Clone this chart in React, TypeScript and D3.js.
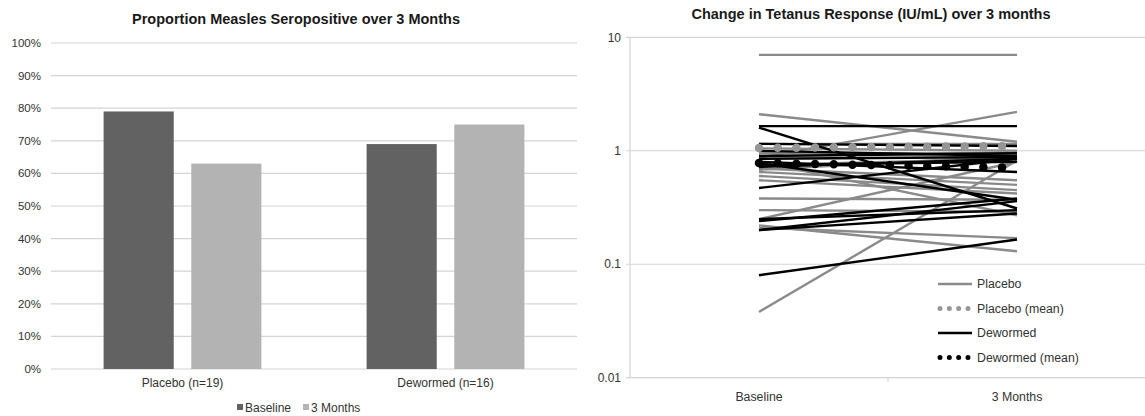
import React from "react";
import * as d3 from "d3";

// left chart: proportion seropositive
const groups = ["Placebo (n=19)", "Dewormed (n=16)"];
const timepoints = ["Baseline", "3 Months"];
const baselineProp = [0.79, 0.69];
const monthsProp = [0.63, 0.75];
const pctTicks = [0, 0.1, 0.2, 0.3, 0.4, 0.5, 0.6, 0.7, 0.8, 0.9, 1];

// right chart: tetanus IU/mL, [baseline, 3 months] per child
const placeboPairs = [
  [7.0, 7.0],
  [2.1, 1.2],
  [0.87, 2.2],
  [0.038, 0.82],
  [0.25, 0.8],
  [0.38, 0.37],
  [0.3, 0.29],
  [0.21, 0.17],
  [0.22, 0.13],
  [1.15, 1.15],
  [1.05, 1.0],
  [0.95, 0.95],
  [0.7, 0.55],
  [0.65, 0.5],
  [0.6, 0.45],
  [0.68, 0.9],
  [0.55, 0.42],
  [0.75, 0.85],
  [0.8, 0.27],
];
const dewormedPairs = [
  [1.65, 1.65],
  [1.6, 0.31],
  [0.78, 0.37],
  [0.47, 0.85],
  [0.24, 0.38],
  [0.2, 0.36],
  [0.2, 0.28],
  [0.08, 0.165],
  [1.15, 1.1],
  [0.9, 0.95],
  [0.85, 0.88],
  [0.8, 0.65],
  [1.0, 0.9],
  [0.75, 0.8],
  [0.25, 0.3],
  [0.72, 0.85],
];
const placeboMean = [1.06, 1.1];
const dewormedMean = [0.78, 0.71];
const logTicks = [0.01, 0.1, 1, 10];

const FONT = "'Liberation Sans', Arial, sans-serif";
const DARK = "#626262";
const LIGHT = "#b3b3b3";
const GRID = "#d4d4d4";
const TXT = "#333";

const LeftChart = () => {
  const y = d3.scaleLinear().domain([0, 1]).range([369, 43]);
  const x0 = d3.scaleBand().domain(groups).range([51, 577]).paddingInner(0.4).paddingOuter(0.2);
  const x1 = d3.scaleBand().domain(timepoints).range([0, x0.bandwidth()]).paddingInner(0.2);
  const vals = [baselineProp, monthsProp];
  const cols = [DARK, LIGHT];

  return (
    <g>
      <text x={296} y={24} textAnchor="middle" fontSize={14.5} fontWeight="bold" fill="#1a1a1a">
        Proportion Measles Seropositive over 3 Months
      </text>
      {pctTicks.map((t) => (
        <g key={t}>
          <line x1={51} x2={577} y1={y(t)} y2={y(t)} stroke={GRID} strokeWidth={1.2} />
          <text x={41} y={y(t)} dy="0.35em" textAnchor="end" fontSize={11.5} fill={TXT}>
            {d3.format(".0%")(t)}
          </text>
        </g>
      ))}
      {groups.map((g, gi) =>
        timepoints.map((tp, ti) => (
          <rect
            key={g + tp}
            x={(x0(g) ?? 0) + (x1(tp) ?? 0)}
            y={y(vals[ti][gi])}
            width={x1.bandwidth()}
            height={y(0) - y(vals[ti][gi])}
            fill={cols[ti]}
          />
        ))
      )}
      {groups.map((g) => (
        <text key={g} x={(x0(g) ?? 0) + x0.bandwidth() / 2} y={387} textAnchor="middle" fontSize={12} fill={TXT}>
          {g}
        </text>
      ))}
      {timepoints.map((tp, i) => {
        const lx = 237 + i * 66;
        return (
          <g key={tp}>
            <rect x={lx} y={404} width={6} height={6} fill={cols[i]} />
            <text x={lx + 8} y={411.5} fontSize={12} fill={TXT}>
              {tp}
            </text>
          </g>
        );
      })}
    </g>
  );
};

const RightChart = () => {
  const y = d3.scaleLog().domain([0.01, 10]).range([377.7, 37.3]);
  const x = d3.scalePoint().domain(timepoints).range([630, 1146]).padding(0.5);
  const line = d3
    .line<number>()
    .x((_, i) => x(timepoints[i]) ?? 0)
    .y((d) => y(d));

  const PLAC = "#8a8a8a";
  const PMEAN = "#969696";

  const legend = [
    { label: "Placebo", color: PLAC, dotted: false },
    { label: "Placebo (mean)", color: PMEAN, dotted: true },
    { label: "Dewormed", color: "#000", dotted: false },
    { label: "Dewormed (mean)", color: "#000", dotted: true },
  ];

  return (
    <g>
      <text x={871} y={19} textAnchor="middle" fontSize={14.5} fontWeight="bold" fill="#1a1a1a">
        Change in Tetanus Response (IU/mL) over 3 months
      </text>
      {logTicks.map((t) => (
        <g key={t}>
          <line x1={626} x2={1146} y1={y(t)} y2={y(t)} stroke={GRID} strokeWidth={1.2} />
          <text x={621} y={y(t)} dy="0.35em" textAnchor="end" fontSize={12} fill={TXT}>
            {String(t)}
          </text>
        </g>
      ))}
      <line x1={630} x2={630} y1={y(10)} y2={y(0.01)} stroke={GRID} strokeWidth={1.2} />
      <line x1={888} x2={888} y1={y(0.01)} y2={y(0.01) + 4} stroke={GRID} strokeWidth={1.2} />
      {timepoints.map((tp) => (
        <text key={tp} x={x(tp)} y={401} textAnchor="middle" fontSize={12.3} fill={TXT}>
          {tp}
        </text>
      ))}
      {placeboPairs.map((p, i) => (
        <path key={"p" + i} d={line(p) ?? ""} fill="none" stroke={PLAC} strokeWidth={2.4} />
      ))}
      {dewormedPairs.map((p, i) => (
        <path key={"d" + i} d={line(p) ?? ""} fill="none" stroke="#000" strokeWidth={2.4} />
      ))}
      <path
        d={line(placeboMean) ?? ""}
        fill="none"
        stroke={PMEAN}
        strokeWidth={8.5}
        strokeLinecap="round"
        strokeDasharray="0 18.7"
      />
      <path
        d={line(dewormedMean) ?? ""}
        fill="none"
        stroke="#000"
        strokeWidth={8.5}
        strokeLinecap="round"
        strokeDasharray="0 18.7"
      />
      {legend.map((l, i) => {
        const ly = 284 + i * 24.5;
        return (
          <g key={l.label}>
            {l.dotted ? (
              <line
                x1={940}
                x2={968}
                y1={ly}
                y2={ly}
                stroke={l.color}
                strokeWidth={5}
                strokeLinecap="round"
                strokeDasharray="0 9.33"
              />
            ) : (
              <line x1={938} x2={972} y1={ly} y2={ly} stroke={l.color} strokeWidth={2.4} />
            )}
            <text x={977} y={ly} dy="0.35em" fontSize={12.3} fill={TXT}>
              {l.label}
            </text>
          </g>
        );
      })}
    </g>
  );
};

export default function App() {
  return (
    <div style={{ position: "absolute", left: 0, top: 0 }}>
      <svg width={1145} height={416} style={{ display: "block", background: "#fff", fontFamily: FONT }}>
        <LeftChart />
        <RightChart />
      </svg>
    </div>
  );
}
